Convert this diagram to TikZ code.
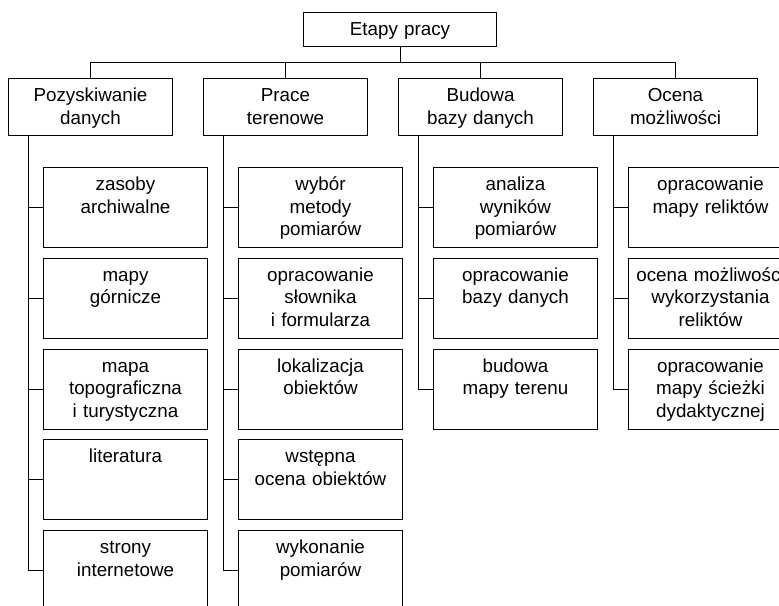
\documentclass[tikz,border=0pt]{standalone}
\usepackage{fontspec}
\setmainfont{Liberation Sans}
\begin{document}
\begin{tikzpicture}[x=1pt,y=-1pt,line width=1pt,
  box/.style={draw,rectangle,inner sep=0pt,text width=164pt,align=center,
    font=\fontsize{18.8}{22.5}\selectfont,text height=23pt},
  topbox/.style={box,text width=193pt,text depth=11pt},
  catbox/.style={box,text depth=34pt},
  itembox/.style={box,text depth=57pt}]
\clip (0,0) rectangle (779,605);
\fill[white] (0,0) rectangle (779,605);
% root
\node[topbox,anchor=north west] (e) at (303,12) {Etapy pracy};
% level 1
\node[catbox,anchor=north west] (a) at (8,78) {Pozyskiwanie\\danych};
\node[catbox,anchor=north west] (b) at (203,78) {Prace\\terenowe};
\node[catbox,anchor=north west] (c) at (398,78) {Budowa\\bazy danych};
\node[catbox,anchor=north west] (d) at (593,78) {Ocena\\możliwości};
\coordinate (hl) at (0,62);
\draw (e.south) -- (e.south |- hl);
\draw (a.north) -- (a.north |- hl) -| (d.north);
\draw (b.north) -- (b.north |- hl);
\draw (c.north) -- (c.north |- hl);
% column 1
\node[itembox,anchor=north west] (a1) at (43,167) {zasoby\\archiwalne};
\node[itembox,anchor=north west] (a2) at (43,257.8) {mapy\\górnicze};
\node[itembox,anchor=north west] (a3) at (43,348.6) {mapa\\topograficzna\\i turystyczna};
\node[itembox,anchor=north west] (a4) at (43,439.4) {literatura};
\node[itembox,anchor=north west] (a5) at (43,530.2) {strony\\internetowe};
% column 2
\node[itembox,anchor=north west] (b1) at (238,167) {wybór\\metody\\pomiarów};
\node[itembox,anchor=north west] (b2) at (238,257.8) {opracowanie\\słownika\\i formularza};
\node[itembox,anchor=north west] (b3) at (238,348.6) {lokalizacja\\obiektów};
\node[itembox,anchor=north west] (b4) at (238,439.4) {wstępna\\ocena obiektów};
\node[itembox,anchor=north west] (b5) at (238,530.2) {wykonanie\\pomiarów};
% column 3
\node[itembox,anchor=north west] (c1) at (433,167) {analiza\\wyników\\pomiarów};
\node[itembox,anchor=north west] (c2) at (433,257.8) {opracowanie\\bazy danych};
\node[itembox,anchor=north west] (c3) at (433,348.6) {budowa\\mapy terenu};
% column 4
\node[itembox,anchor=north west] (d1) at (628,167) {opracowanie\\mapy reliktów};
\node[itembox,anchor=north west] (d2) at (628,257.8) {ocena możliwości\\wykorzystania\\reliktów};
\node[itembox,anchor=north west] (d3) at (628,348.6) {opracowanie\\mapy ścieżki\\dydaktycznej};
% branch lines
\coordinate (av) at ([xshift=20pt]a.south west);
\coordinate (bv) at ([xshift=20pt]b.south west);
\coordinate (cv) at ([xshift=20pt]c.south west);
\coordinate (dv) at ([xshift=20pt]d.south west);
\draw (av) |- (a5.west);
\draw (bv) |- (b5.west);
\draw (cv) |- (c3.west);
\draw (dv) |- (d3.west);
\foreach \n in {a1,a2,a3,a4} {\draw (\n.west) -- (\n.west -| av);}
\foreach \n in {b1,b2,b3,b4} {\draw (\n.west) -- (\n.west -| bv);}
\foreach \n in {c1,c2} {\draw (\n.west) -- (\n.west -| cv);}
\foreach \n in {d1,d2} {\draw (\n.west) -- (\n.west -| dv);}
\end{tikzpicture}
\end{document}
